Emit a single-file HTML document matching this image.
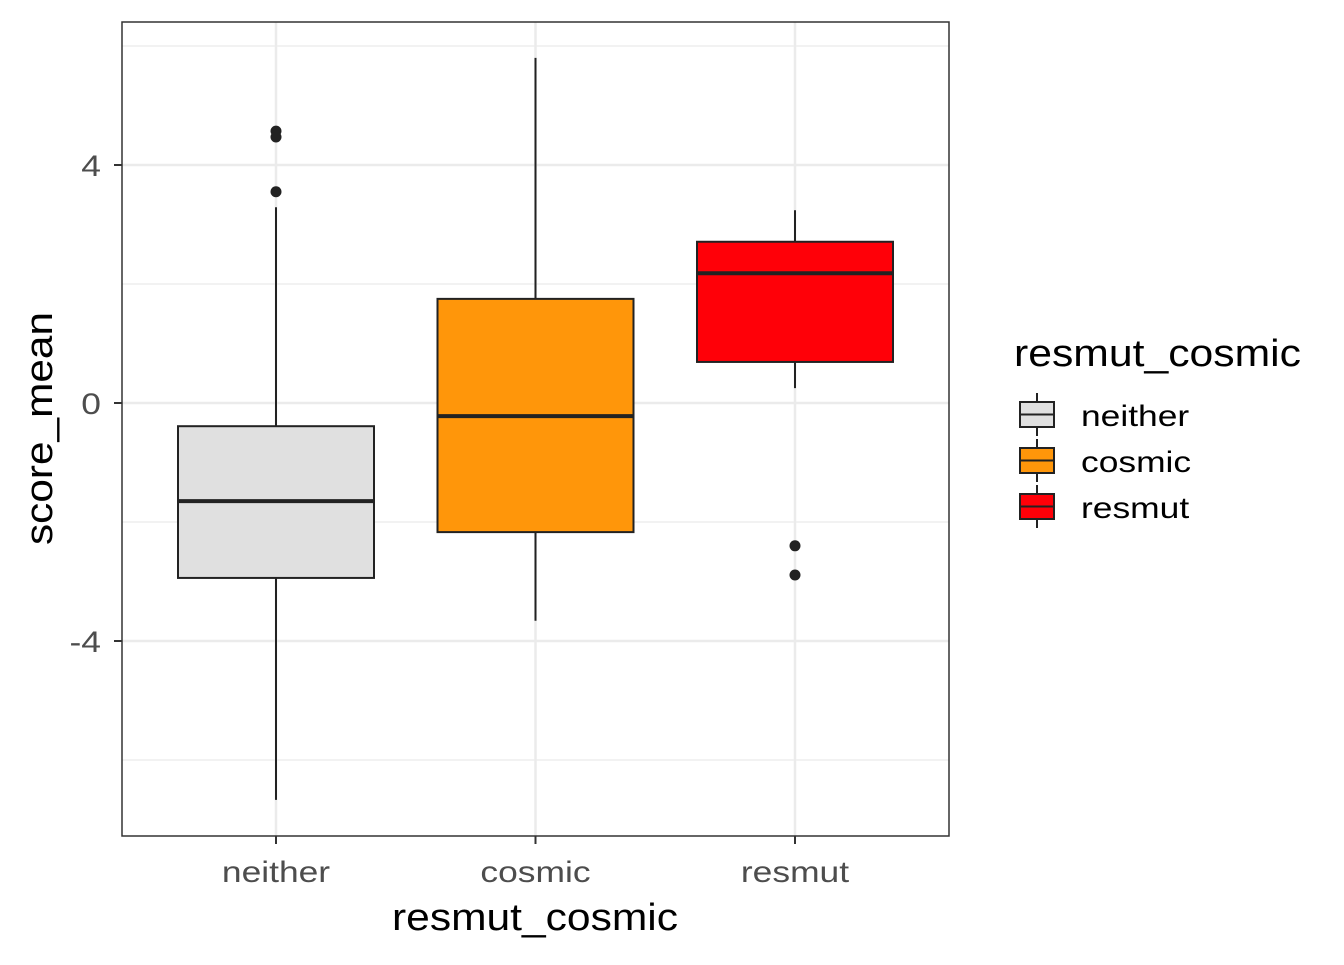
<!DOCTYPE html>
<html><head><meta charset="utf-8"><style>
body{margin:0;background:#fff;font-family:"Liberation Sans",Arial,sans-serif}
</style></head><body>
<svg id="chart" width="1344" height="960" viewBox="0 0 1344 960" xmlns="http://www.w3.org/2000/svg">
<rect width="1344" height="960" fill="#fff"/>
<g id="grid"></g>
<g id="boxes"></g>
<rect x="122" y="22" width="827" height="814" fill="none" stroke="#333" stroke-width="1.5"/>
<g id="axes"></g>
<text x="392" y="930" font-size="38" textLength="286" lengthAdjust="spacingAndGlyphs" fill="#000">resmut_cosmic</text>
<text transform="translate(52,545) rotate(-90)" font-size="38" textLength="233" lengthAdjust="spacingAndGlyphs" fill="#000">score_mean</text>
<g id="legend">
<text x="1014" y="366" font-size="38" textLength="287" lengthAdjust="spacingAndGlyphs" fill="#000">resmut_cosmic</text>
</g>
</svg>
<script>
const categories = ["neither","cosmic","resmut"];
const colors = ["#e0e0e0","#ff960a","#ff0008"];
const whiskerHigh = [3.29, 5.80, 3.24];
const q3 = [-0.39, 1.75, 2.71];
const median = [-1.65, -0.22, 2.18];
const q1 = [-2.94, -2.17, 0.69];
const whiskerLow = [-6.67, -3.66, 0.25];
const outlierCat = [0, 0, 0, 2, 2];
const outlierVal = [4.57, 4.47, 3.55, -2.40, -2.89];
const yTicks = [-4, 0, 4];
const yMinor = [-6, -2, 2, 6];

const NS = "http://www.w3.org/2000/svg";
const y = v => 403 - v * 59.5;
const x = i => 276 + i * 259.5;
const half = 98;
const W = 1.18;
function mk(tag, attrs, parent){const e=document.createElementNS(NS,tag);for(const k in attrs)e.setAttribute(k,attrs[k]);parent.appendChild(e);return e;}
function stretch(t){const w=t.getComputedTextLength();t.setAttribute('textLength',(w*W).toFixed(1));t.setAttribute('lengthAdjust','spacingAndGlyphs');}
const grid=document.getElementById('grid'), boxes=document.getElementById('boxes'), axes=document.getElementById('axes'), legend=document.getElementById('legend');
yMinor.forEach(v=>{const l=mk('line',{x1:122,x2:949,y1:y(v),y2:y(v),stroke:'#ebebeb','stroke-width':1.2},grid);

});
yTicks.forEach(v=>{const l=mk('line',{x1:122,x2:949,y1:y(v),y2:y(v),stroke:'#ebebeb','stroke-width':2.5},grid);


const t=mk('line',{x1:114,x2:122,y1:y(v),y2:y(v),stroke:'#333','stroke-width':2},axes);


const tx=mk('text',{x:101,y:y(v)+11,'font-size':30,'text-anchor':'end',fill:'#4d4d4d'},axes);tx.textContent=v;


stretch(tx);});
categories.forEach((c,i)=>{
const g=mk('line',{x1:x(i),x2:x(i),y1:22,y2:836,stroke:'#ebebeb','stroke-width':2.5},grid);


const w1=mk('line',{x1:x(i),x2:x(i),y1:y(whiskerHigh[i]),y2:y(q3[i]),stroke:'#222','stroke-width':2},boxes);


const w2=mk('line',{x1:x(i),x2:x(i),y1:y(q1[i]),y2:y(whiskerLow[i]),stroke:'#222','stroke-width':2},boxes);


const b=mk('rect',{x:x(i)-half,y:y(q3[i]),width:half*2,height:y(q1[i])-y(q3[i]),fill:colors[i],stroke:'#222','stroke-width':2},boxes);


const m=mk('line',{x1:x(i)-half,x2:x(i)+half,y1:y(median[i]),y2:y(median[i]),stroke:'#222','stroke-width':4},boxes);


const t=mk('line',{x1:x(i),x2:x(i),y1:836,y2:844,stroke:'#333','stroke-width':2},axes);


const tx=mk('text',{x:x(i),y:882,'font-size':30,'text-anchor':'middle',fill:'#4d4d4d'},axes);tx.textContent=c;


stretch(tx);
const ly=398+i*46;
const kl=mk('line',{x1:1037,x2:1037,y1:ly-5,y2:ly+38,stroke:'#222','stroke-width':2},legend);


const kb=mk('rect',{x:1020,y:ly+4,width:34,height:25,fill:colors[i],stroke:'#222','stroke-width':2},legend);


const km=mk('line',{x1:1020,x2:1054,y1:ly+16.5,y2:ly+16.5,stroke:'#222','stroke-width':2},legend);


const lt=mk('text',{x:1081,y:ly+28,'font-size':30,fill:'#000'},legend);lt.textContent=c;


stretch(lt);
});
outlierVal.forEach((v,k)=>{const p=mk('circle',{cx:x(outlierCat[k]),cy:y(v),r:5.5,fill:'#222'},boxes);

});
</script>
</body></html>
